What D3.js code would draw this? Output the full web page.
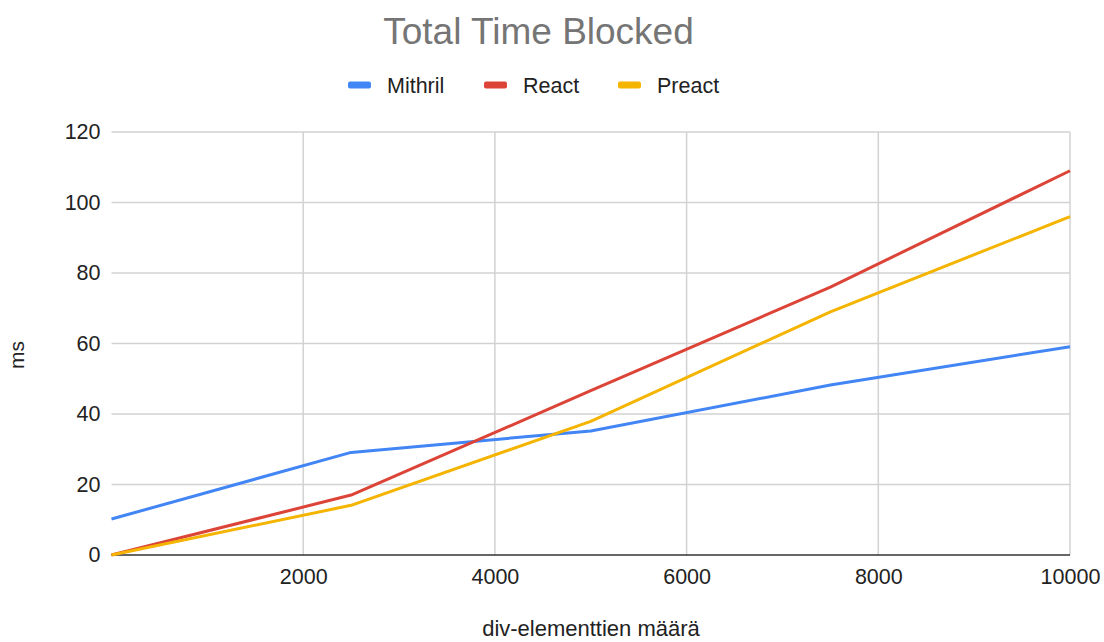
<!DOCTYPE html>
<html lang="en">
<head>
    <meta charset="utf-8">
    <title>Total Time Blocked</title>
    <script src="https://d3js.org/d3.v7.min.js"></script>
    <style type="text/css">
        body { margin: 0; background-color: #fff; }
        text { font-family: "Liberation Sans", Arial, sans-serif; }
    </style>
</head>
<body>
<script type="text/javascript">

    //Data
    const divCounts = [0, 2500, 5000, 7500, 10000];
    const mithril = [10.2, 29.1, 35.2, 48.2, 59.1];
    const react = [0, 17, 46.6, 76, 109];
    const preact = [0, 14.1, 37.9, 69, 96];
    const seriesNames = ["Mithril", "React", "Preact"];
    const xTicks = [2000, 4000, 6000, 8000, 10000];
    const yTicks = [0, 20, 40, 60, 80, 100, 120];

    const series = [mithril, react, preact].map((vals, i) => ({
        name: seriesNames[i],
        points: vals.map((v, j) => ({ x: divCounts[j], y: v }))
    }));

    //CONSTANTS
    const width = 1104;
    const height = 642;
    const margin = { top: 132, right: 34, bottom: 87, left: 111.5 };
    const myColor = d3.scaleOrdinal(seriesNames, ["#4285f4", "#db4437", "#f4b400"]);

    const x = d3.scaleLinear().domain([0, 10000]).range([margin.left, width - margin.right]);
    const y = d3.scaleLinear().domain([0, 120]).range([height - margin.bottom, margin.top]);

    const svg = d3.select("body")
        .append("svg")
        .attr("width", width)
        .attr("height", height);

    //TITLE
    svg.append("text")
        .attr("x", 538.5)
        .attr("y", 44)
        .attr("text-anchor", "middle")
        .attr("font-size", 37)
        .attr("fill", "#757575")
        .text("Total Time Blocked");

    //LEGEND
    const legendX = [348, 484, 618];
    const legend = svg.selectAll("g.legend")
        .data(seriesNames)
        .enter()
        .append("g")
        .attr("class", "legend")
        .attr("transform", (d, i) => "translate(" + legendX[i] + ",85)");
    legend.append("rect")
        .attr("x", 0).attr("y", -3.5)
        .attr("width", 23).attr("height", 7)
        .attr("rx", 2)
        .attr("fill", d => myColor(d));
    legend.append("text")
        .attr("x", 39)
        .attr("y", 8)
        .attr("font-size", 21.5)
        .attr("fill", "#222")
        .text(d => d);

    //GRIDLINES
    svg.append("g")
        .selectAll("line")
        .data(yTicks.filter(d => d > 0))
        .enter()
        .append("line")
        .attr("x1", margin.left).attr("x2", width - margin.right)
        .attr("y1", d => y(d)).attr("y2", d => y(d))
        .attr("stroke", "#d2d2d2")
        .attr("stroke-width", 1.5);

    svg.append("g")
        .selectAll("line")
        .data(xTicks)
        .enter()
        .append("line")
        .attr("x1", d => x(d)).attr("x2", d => x(d))
        .attr("y1", y(0)).attr("y2", y(120))
        .attr("stroke", "#d2d2d2")
        .attr("stroke-width", 1.5);

    //AXES (labels only, lines drawn as grid)
    const yAxis = svg.append("g")
        .attr("transform", "translate(" + (margin.left - 11) + ",0)")
        .call(d3.axisLeft(y).tickValues(yTicks).tickSize(0).tickPadding(0));
    yAxis.select(".domain").remove();
    yAxis.selectAll("text")
        .attr("font-size", 21.5)
        .attr("fill", "#222")
        .attr("font-family", "Liberation Sans, Arial, sans-serif");

    const xAxis = svg.append("g")
        .attr("transform", "translate(0," + (y(0) + 14) + ")")
        .call(d3.axisBottom(x).tickValues(xTicks).tickSize(0).tickPadding(0).tickFormat(d3.format("d")));
    xAxis.select(".domain").remove();
    xAxis.selectAll("text")
        .attr("font-size", 21.5)
        .attr("fill", "#222")
        .attr("font-family", "Liberation Sans, Arial, sans-serif");

    //BASELINE
    svg.append("line")
        .attr("x1", margin.left).attr("x2", width - margin.right)
        .attr("y1", y(0)).attr("y2", y(0))
        .attr("stroke", "#333")
        .attr("stroke-width", 1.5);

    //LINES
    const line = d3.line().x(d => x(d.x)).y(d => y(d.y));
    svg.append("g")
        .selectAll("path")
        .data(series)
        .enter()
        .append("path")
        .attr("fill", "none")
        .attr("stroke", d => myColor(d.name))
        .attr("stroke-width", 3)
        .attr("stroke-linejoin", "round")
        .attr("d", d => line(d.points));

    //AXIS TITLES
    svg.append("text")
        .attr("transform", "translate(24,355) rotate(-90)")
        .attr("text-anchor", "middle")
        .attr("font-size", 21)
        .attr("fill", "#222")
        .text("ms");

    svg.append("text")
        .attr("x", 591)
        .attr("y", 636)
        .attr("text-anchor", "middle")
        .attr("font-size", 22)
        .attr("fill", "#222")
        .text("div-elementtien määrä");

</script>
</body>
</html>
